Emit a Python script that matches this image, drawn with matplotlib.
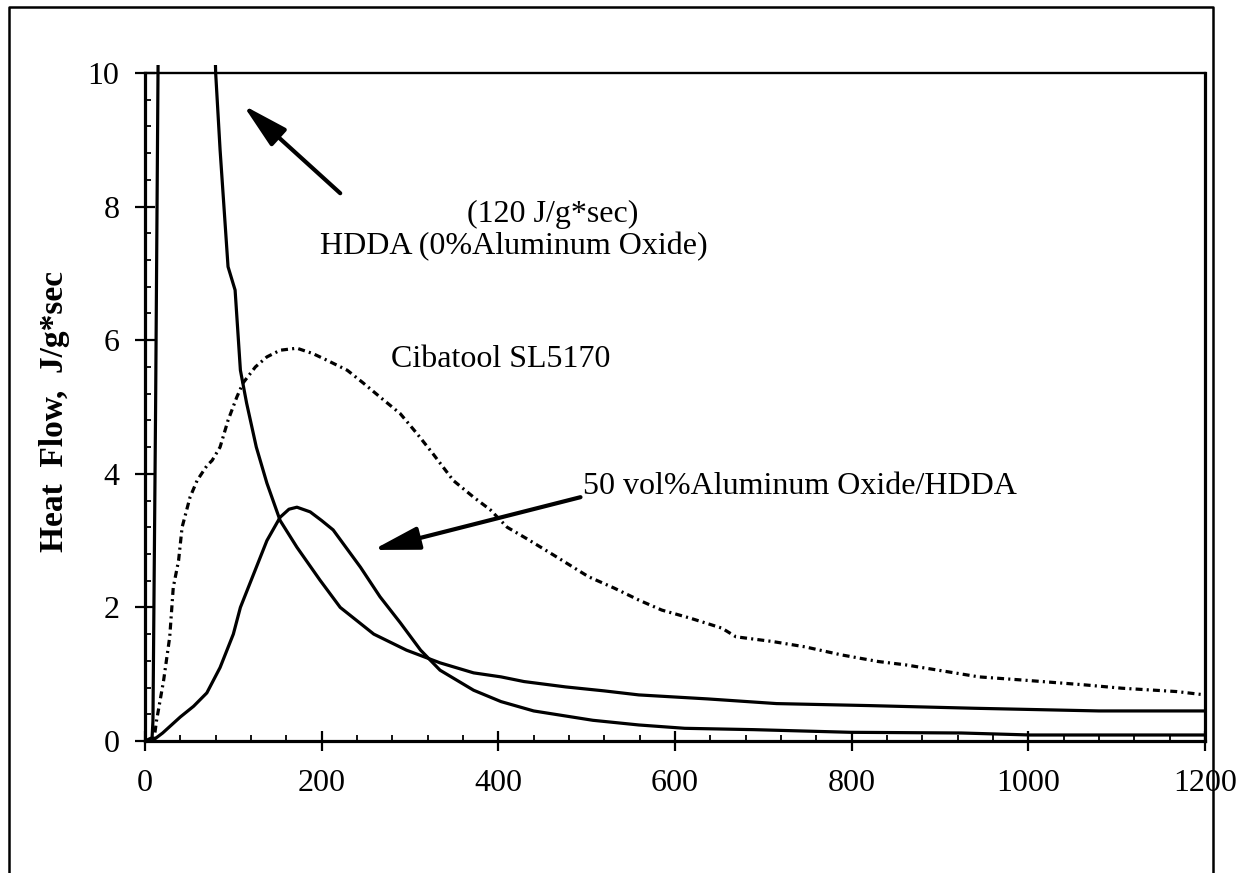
import matplotlib
matplotlib.use("Agg")
import matplotlib.pyplot as plt
from matplotlib.lines import Line2D
from matplotlib.patches import Rectangle
from matplotlib.ticker import MultipleLocator

# time (sec) and heat flow (J/g*sec)
hdda_t = [0, 8, 9, 12, 15, 40, 79, 80, 85, 94, 102, 108, 115, 126, 138, 153, 172,
          198, 221, 259, 296, 334, 372, 403, 429, 476, 520, 559, 637, 715, 820,
          939, 1080, 1200]
hdda_q = [0, 0.05, 0.3, 5.0, 10.5, 120, 10.5, 10.0, 8.85, 7.1, 6.75, 5.55, 5.06,
          4.4, 3.86, 3.3, 2.9, 2.41, 2.0, 1.6, 1.36, 1.17, 1.02, 0.96, 0.89, 0.81,
          0.75, 0.69, 0.63, 0.56, 0.53, 0.49, 0.45, 0.45]

alox_t = [0, 8, 20, 40, 55, 70, 85, 100, 108, 123, 138, 153, 163, 172, 187, 200,
          213, 244, 266, 289, 312, 334, 372, 403, 440, 507, 559, 611, 689,
          799, 924, 1002, 1200]
alox_q = [0, 0.0, 0.12, 0.36, 0.52, 0.72, 1.1, 1.6, 2.0, 2.5, 3.0, 3.35, 3.47,
          3.5, 3.43, 3.3, 3.16, 2.6, 2.16, 1.77, 1.36, 1.06, 0.76, 0.59, 0.45,
          0.31, 0.24, 0.19, 0.17, 0.13, 0.12, 0.09, 0.09]

ciba_t = [0, 10, 13, 21, 28, 32, 38, 42, 51, 59, 70, 76, 85, 94, 104, 111, 125,
          138, 153, 172, 190, 206, 229, 247, 266, 289, 308, 326, 349, 372, 391,
          410, 432, 463, 502, 531, 559, 585, 617, 653, 669, 710, 747, 788, 830,
          861, 898, 944, 996, 1064, 1106, 1168, 1200]
ciba_q = [0, 0, 0.3, 0.9, 1.56, 2.3, 2.7, 3.2, 3.65, 3.9, 4.12, 4.2, 4.4, 4.8,
          5.15, 5.36, 5.6, 5.75, 5.85, 5.88, 5.8, 5.7, 5.55, 5.36, 5.15, 4.9,
          4.6, 4.3, 3.9, 3.65, 3.46, 3.2, 3.03, 2.78, 2.46, 2.29, 2.11, 1.96,
          1.84, 1.69, 1.56, 1.49, 1.41, 1.29, 1.19, 1.14, 1.06, 0.96, 0.91, 0.84,
          0.79, 0.74, 0.69]

x_ticks = [0, 200, 400, 600, 800, 1000, 1200]
y_ticks = [0, 2, 4, 6, 8, 10]

serif = ["Liberation Serif", "DejaVu Serif"]
plt.rcParams["font.family"] = serif
plt.rcParams["lines.scale_dashes"] = False

fig = plt.figure(figsize=(12.44, 8.73), dpi=100)
ax = fig.add_axes([145 / 1244, 1 - 741 / 873, 1060 / 1244, 668 / 873])

lw = 2.3
hdda_line, = ax.plot(hdda_t, hdda_q, color="black", lw=lw, solid_joinstyle="round")
# the spike pokes a little above the frame in the original
hdda_line.set_clip_path(Rectangle((0, 0), 1, 1.012, transform=ax.transAxes))
ax.plot(alox_t, alox_q, color="black", lw=lw, solid_joinstyle="round")
ax.plot(ciba_t, ciba_q, color="black", lw=lw, linestyle=(0, (5, 3, 1.5, 3)))

ax.set_xlim(0, 1200)
ax.set_ylim(0, 10)
ax.set_xticks(x_ticks)
ax.set_yticks(y_ticks)
ax.xaxis.set_minor_locator(MultipleLocator(40))
ax.yaxis.set_minor_locator(MultipleLocator(0.4))
ax.tick_params(which="major", direction="inout", length=15, width=1.6,
               labelsize=23, top=False, right=False)
ax.tick_params(axis="y", which="major", pad=11)
ax.tick_params(axis="x", which="major", pad=13)
ax.tick_params(which="minor", direction="in", length=4.5, width=1.3,
               top=False, right=False)
for side in ["left", "bottom", "right"]:
    ax.spines[side].set_linewidth(2.3)
ax.spines["top"].set_linewidth(1.7)

fig.text(54 / 1244, 1 - 412 / 873, "Heat  Flow,  J/g*sec", rotation=90,
         ha="center", va="center", fontsize=24, fontweight="bold")

txt = dict(fontsize=23, color="black")
ax.text(461, 7.77, "(120 J/g*sec)", ha="center", va="baseline", **txt)
ax.text(417, 7.28, "HDDA (0%Aluminum Oxide)", ha="center", va="baseline", **txt)
ax.text(278, 5.6, "Cibatool SL5170", ha="left", va="baseline", **txt)
ax.text(496, 3.7, "50 vol%Aluminum Oxide/HDDA", ha="left", va="baseline", **txt)

arrow = dict(arrowstyle="-|>,head_length=1.4,head_width=0.35", color="black",
             lw=3.0, mutation_scale=20, shrinkA=0, shrinkB=0)
ax.annotate("", xy=(111, 9.52), xytext=(221, 8.2), arrowprops=arrow)
ax.annotate("", xy=(258, 2.86), xytext=(493, 3.65), arrowprops=arrow)

# outer box of the scanned figure (its bottom edge is cut off)
x0, x1, ytop = 9 / 1244, 1213 / 1244, 1 - 7 / 873
fig.add_artist(Line2D([x0, x0, x1, x1], [0, ytop, ytop, 0], color="black",
                      lw=1.8, transform=fig.transFigure))

fig.savefig("out.png", dpi=100)
